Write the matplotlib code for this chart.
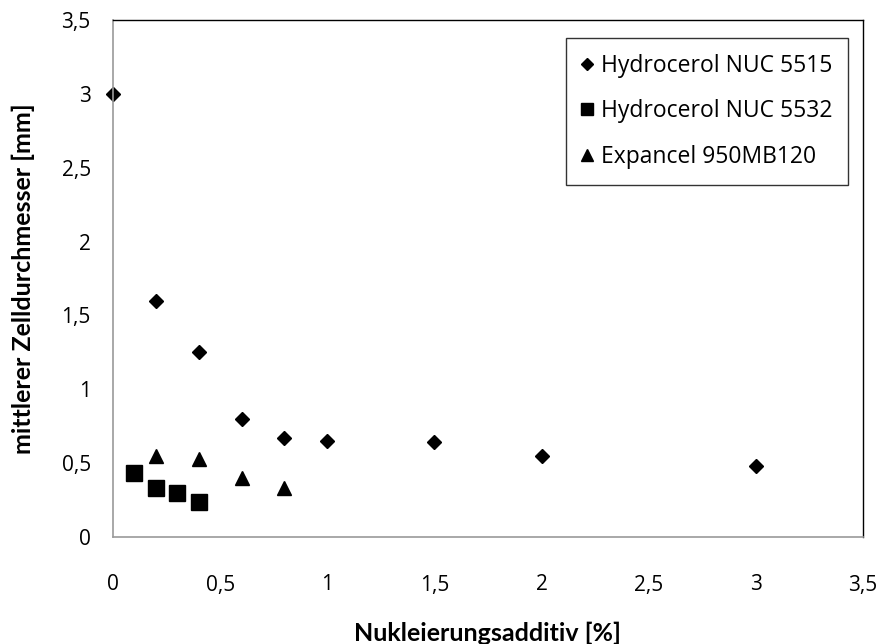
import matplotlib
matplotlib.use("Agg")
import matplotlib.pyplot as plt
from matplotlib.ticker import FuncFormatter

plt.rcParams['font.family'] = ['Open Sans', 'DejaVu Sans']

# Hydrocerol NUC 5515
x_5515 = [0, 0.2, 0.4, 0.6, 0.8, 1.0, 1.5, 2.0, 3.0]
y_5515 = [3.0, 1.6, 1.25, 0.8, 0.67, 0.65, 0.64, 0.55, 0.48]
# Hydrocerol NUC 5532
x_5532 = [0.1, 0.2, 0.3, 0.4]
y_5532 = [0.43, 0.33, 0.30, 0.24]
# Expancel 950MB120
x_exp = [0.2, 0.4, 0.6, 0.8]
y_exp = [0.55, 0.53, 0.40, 0.33]

tick_vals = [0, 0.5, 1, 1.5, 2, 2.5, 3, 3.5]

fig = plt.figure(figsize=(8.93, 6.44), dpi=100)
ax = fig.add_axes([113/893, 1-537/644, (863-113)/893, (537-20)/644])

ax.plot(x_5515, y_5515, linestyle='none', marker='D', markersize=7.5,
        color='black', label='Hydrocerol NUC 5515', clip_on=False)
ax.plot(x_5532, y_5532, linestyle='none', marker='s', markersize=11,
        color='black', label='Hydrocerol NUC 5532', clip_on=False)
ax.plot(x_exp, y_exp, linestyle='none', marker='^', markersize=10,
        color='black', label='Expancel 950MB120', clip_on=False)

ax.set_xlim(0, 3.5)
ax.set_ylim(0, 3.5)
ax.set_xticks(tick_vals)
ax.set_yticks(tick_vals)
fmt = FuncFormatter(lambda v, p: (f"{v:g}").replace('.', ','))
ax.xaxis.set_major_formatter(fmt)
ax.yaxis.set_major_formatter(fmt)
ax.tick_params(axis='both', length=0, labelsize=15)
ax.tick_params(axis='x', pad=27)
ax.tick_params(axis='y', pad=16)

for side in ('left', 'bottom'):
    ax.spines[side].set_color('#9a9a9a')
    ax.spines[side].set_linewidth(1.2)
for side in ('top', 'right'):
    ax.spines[side].set_color('black')
    ax.spines[side].set_linewidth(1.0)

label_font = dict(family=['Lato', 'DejaVu Sans'], fontsize=18, fontweight='bold')
ax.set_xlabel('Nukleierungsadditiv [%]', labelpad=19, **label_font)
ax.set_ylabel('mittlerer Zelldurchmesser [mm]', labelpad=19, **label_font)

leg = ax.legend(loc='upper right', bbox_to_anchor=((848-113)/750, (537-38)/517),
                fontsize=16.5, frameon=True, fancybox=False, edgecolor='black',
                handlelength=0.45, handletextpad=0.4, labelspacing=0.95,
                borderpad=0.68, markerscale=0.85, borderaxespad=0)
leg.get_frame().set_linewidth(1.0)

fig.savefig('out.png', dpi=100)
